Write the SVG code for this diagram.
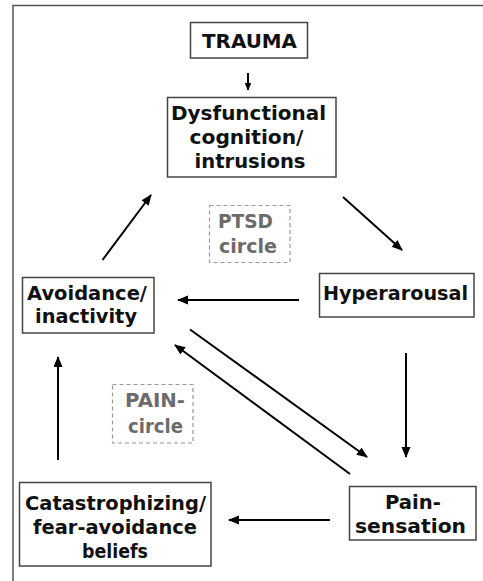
<svg xmlns="http://www.w3.org/2000/svg" width="483" height="581" viewBox="0 0 483 581">
<style>
.box{fill:#fff;stroke:#444;stroke-width:1.5}
.dash{fill:none;stroke:#999;stroke-width:1.2;stroke-dasharray:4 3}
.t{font-family:"DejaVu Sans",sans-serif;font-weight:700;font-size:19.5px;fill:#111;text-anchor:middle}
.g{fill:#6b6b6b}
.c{stroke:#000;stroke-width:2;fill:none}
</style>
<defs>
<marker id="ah" markerUnits="userSpaceOnUse" markerWidth="12" markerHeight="10" refX="10" refY="4.5" orient="auto">
<path d="M0,0 L11,4.5 L0,9 Z" fill="#000"/>
</marker>
<marker id="ahs" markerUnits="userSpaceOnUse" markerWidth="9" markerHeight="8" refX="7.5" refY="3.5" orient="auto">
<path d="M0,0 L8,3.5 L0,7 Z" fill="#000"/>
</marker>
</defs>
<rect width="483" height="581" fill="#fff"/>
<path d="M13,581 V5.5 H483" fill="none" stroke="#555" stroke-width="1.5"/>

<g id="connectors">
<line class="c" x1="248" y1="73" x2="248" y2="90" stroke-width="1.6" marker-end="url(#ahs)"/>
<line class="c" x1="343" y1="197" x2="402" y2="250" marker-end="url(#ah)"/>
<line class="c" x1="299" y1="300" x2="178" y2="300" marker-end="url(#ah)"/>
<line class="c" x1="102.5" y1="260" x2="151" y2="195" marker-end="url(#ah)"/>
<line class="c" x1="406" y1="353" x2="406" y2="457" marker-end="url(#ah)"/>
<line class="c" x1="190" y1="329.5" x2="367" y2="457" marker-end="url(#ah)"/>
<line class="c" x1="350" y1="474" x2="175" y2="345" marker-end="url(#ah)"/>
<line class="c" x1="330" y1="520" x2="229" y2="520" marker-end="url(#ah)"/>
<line class="c" x1="58" y1="460" x2="58" y2="357" marker-end="url(#ah)"/>
</g>

<g id="trauma">
<rect class="box" x="190.5" y="22.5" width="117" height="35.5"/>
<text class="t" x="249.5" y="48" textLength="95" lengthAdjust="spacingAndGlyphs">TRAUMA</text>
</g>

<g id="dysfunctional">
<rect class="box" x="167.5" y="97.5" width="168.5" height="79.5"/>
<text class="t" x="248.5" y="120" textLength="155" lengthAdjust="spacingAndGlyphs">Dysfunctional</text>
<text class="t" x="246.5" y="144" textLength="114" lengthAdjust="spacingAndGlyphs">cognition/</text>
<text class="t" x="250" y="167.5" textLength="111" lengthAdjust="spacingAndGlyphs">intrusions</text>
</g>

<g id="ptsd">
<rect class="dash" x="209.5" y="205.5" width="80.5" height="57"/>
<text class="t g" x="245.5" y="228" textLength="55" lengthAdjust="spacingAndGlyphs">PTSD</text>
<text class="t g" x="248" y="253" textLength="58" lengthAdjust="spacingAndGlyphs">circle</text>
</g>

<g id="hyperarousal">
<rect class="box" x="319.5" y="273.5" width="154.5" height="43.5"/>
<text class="t" x="395.5" y="300" textLength="145" lengthAdjust="spacingAndGlyphs">Hyperarousal</text>
</g>

<g id="avoidance">
<rect class="box" x="22.5" y="277.5" width="131.5" height="55.5"/>
<text class="t" x="87" y="299.5" textLength="120" lengthAdjust="spacingAndGlyphs">Avoidance/</text>
<text class="t" x="86" y="322.5" textLength="102" lengthAdjust="spacingAndGlyphs">inactivity</text>
</g>

<g id="pain-circle">
<rect class="dash" x="112.5" y="384.5" width="80.5" height="58.5"/>
<text class="t g" x="155" y="407" textLength="60" lengthAdjust="spacingAndGlyphs">PAIN-</text>
<text class="t g" x="155.5" y="433" textLength="55" lengthAdjust="spacingAndGlyphs">circle</text>
</g>

<g id="catastrophizing">
<rect class="box" x="19.5" y="482.5" width="191.5" height="83.5"/>
<text class="t" x="115.5" y="510" textLength="181" lengthAdjust="spacingAndGlyphs">Catastrophizing/</text>
<text class="t" x="115" y="534" textLength="164" lengthAdjust="spacingAndGlyphs">fear-avoidance</text>
<text class="t" x="115" y="558" textLength="66" lengthAdjust="spacingAndGlyphs">beliefs</text>
</g>

<g id="pain-sensation">
<rect class="box" x="349.5" y="486.5" width="126.5" height="53.5"/>
<text class="t" x="413" y="509" textLength="56" lengthAdjust="spacingAndGlyphs">Pain-</text>
<text class="t" x="410.5" y="533" textLength="111" lengthAdjust="spacingAndGlyphs">sensation</text>
</g>
</svg>
